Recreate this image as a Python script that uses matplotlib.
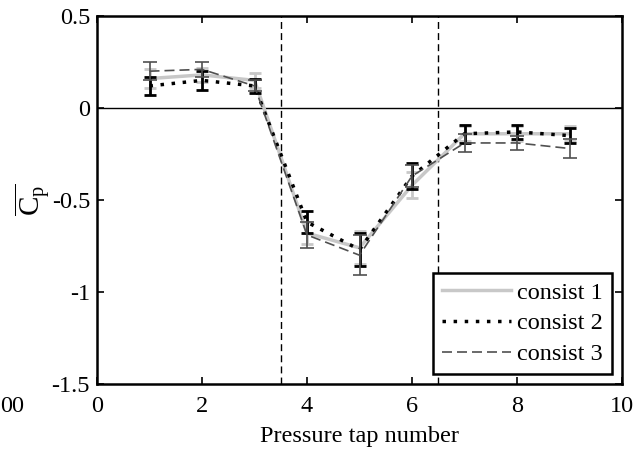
import matplotlib
matplotlib.use("Agg")
import matplotlib.pyplot as plt
from matplotlib.lines import Line2D

plt.rcParams['font.family'] = ['Liberation Serif', 'DejaVu Serif']
plt.rcParams['mathtext.fontset'] = 'custom'
plt.rcParams['mathtext.rm'] = 'Liberation Serif'
plt.rcParams['mathtext.it'] = 'Liberation Serif'

# Pressure tap data
taps = [1, 2, 3, 4, 5, 6, 7, 8, 9]
cp_consist1 = [0.16, 0.18, 0.15, -0.68, -0.76, -0.42, -0.14, -0.14, -0.14]
err_consist1 = [0.05, 0.04, 0.04, 0.06, 0.09, 0.07, 0.04, 0.04, 0.04]
cp_consist2 = [0.12, 0.15, 0.12, -0.62, -0.77, -0.37, -0.14, -0.13, -0.15]
err_consist2 = [0.05, 0.05, 0.04, 0.06, 0.09, 0.07, 0.05, 0.04, 0.04]
cp_consist3 = [0.20, 0.21, 0.12, -0.69, -0.80, -0.37, -0.19, -0.19, -0.22]
err_consist3 = [0.05, 0.04, 0.03, 0.07, 0.11, 0.06, 0.05, 0.04, 0.05]
labels = ['consist 1', 'consist 2', 'consist 3']
boundaries = [3.5, 6.5]

FS = 17.5
styles = [
    dict(color='#c8c8c8', lw=2.5, ls='-', elw=2.0, cap=4),
    dict(color='black', lw=2.5, ls=(0, (1, 2.2)), elw=2.0, cap=4),
    dict(color='#505050', lw=1.2, ls=(0, (6, 3)), elw=1.2, cap=5),
]

fig = plt.figure(figsize=(6.41, 4.5), dpi=100)
ax = fig.add_axes([97 / 641, 1 - 384 / 450, 525 / 641, 368 / 450])

ax.axhline(0, color='black', lw=1.0, zorder=1)
for b in boundaries:
    ax.axvline(b, color='black', lw=1.0, ls=(0, (5, 3)), zorder=1)

series = [(cp_consist1, err_consist1), (cp_consist2, err_consist2),
          (cp_consist3, err_consist3)]
for z, ((vals, errs), st) in enumerate(zip(series, styles)):
    ax.errorbar(taps, vals, yerr=errs, color=st['color'], lw=st['lw'],
                ls=st['ls'], elinewidth=st['elw'], capsize=st['cap'],
                capthick=st['elw'], zorder=2 + z)

ax.set_xlim(0, 10)
ax.set_ylim(-1.5, 0.5)
ax.set_xticks([0, 2, 4, 6, 8, 10])
ax.set_yticks([0.5, 0, -0.5, -1, -1.5])
ax.set_yticklabels(['0.5', '0', '-0.5', '-1', '-1.5'])
ax.tick_params(direction='in', length=5, width=1.2, labelsize=FS,
               top=True, right=True)
ax.tick_params(axis='x', pad=9)
ax.tick_params(axis='y', pad=5)
for s in ax.spines.values():
    s.set_linewidth(1.8)

ax.set_xlabel('Pressure tap number', fontsize=FS, labelpad=6)
ax.set_ylabel(r'$\overline{\mathrm{C}_\mathrm{p}}$', fontsize=21, labelpad=0)

handles = [Line2D([], [], color=st['color'], lw=st['lw'], ls=st['ls'])
           for st in styles]
leg = ax.legend(handles, labels, loc='lower right', fontsize=FS, frameon=True,
                fancybox=False, edgecolor='black', framealpha=1,
                handlelength=2.84, borderpad=0.37, labelspacing=0.36,
                handletextpad=0.25, borderaxespad=0,
                bbox_to_anchor=(0.981, 0.027))
leg.get_frame().set_linewidth(1.8)

fig.text(0.0, 1 - 396 / 450, '00', ha='left', va='top', fontsize=FS)

fig.savefig('out.png', dpi=100)
